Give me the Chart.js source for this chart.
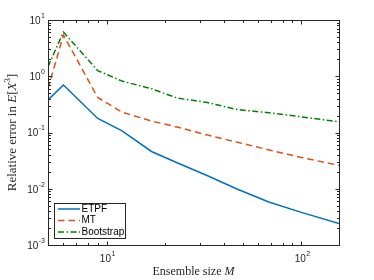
<!DOCTYPE html>
<html>
<head>
<meta charset="utf-8">
<script src="https://cdn.jsdelivr.net/npm/chart.js@4.4.0/dist/chart.umd.min.js"></script>
<style>
  html, body { margin: 0; padding: 0; background: #fff; }
</style>
</head>
<body>
<div style="width:374px;height:280px"><canvas id="chart" width="374" height="280"></canvas></div>
<script>
// values
const ensembleSize   = [5, 6, 9, 12, 17, 23, 33, 47, 68, 100, 156];
const etpfError      = [0.38, 0.70, 0.178, 0.107, 0.046, 0.029, 0.017, 0.0098, 0.0058, 0.0038, 0.0024];
const mtError        = [0.6, 5.4, 0.42, 0.23, 0.16, 0.125, 0.09, 0.067, 0.049, 0.036, 0.026];
const bootstrapError = [1.48, 6.1, 1.26, 0.82, 0.6, 0.41, 0.34, 0.255, 0.225, 0.19, 0.155];
const seriesNames    = ['ETPF', 'MT', 'Bootstrap'];

const xRange = [5, 156];
const yRange = [1e-3, 10];
const xTickValues = [10, 100];
const xTickExps   = ['1', '2'];
const yTickValues = [1e-3, 1e-2, 1e-1, 1, 10];
const yTickExps   = ['-3', '-2', '-1', '0', '1'];

const axisColor = '#262626';
const sans = '"Liberation Sans", Arial, sans-serif';
const serif = '"Liberation Serif", "Times New Roman", serif';

const styles = [
  { color: '#0072BD', dash: [] },
  { color: '#D95319', dash: [6.5, 4] },
  { color: '#008000', dash: [6, 2.5, 1.5, 2.5] }
];

const toPoints = vals => ensembleSize.map((m, i) => ({ x: m, y: vals[i] }));

// box, inward ticks, labels, titles and legend, MATLAB style
const axesFrame = {
  id: 'axesFrame',
  afterDraw(chart) {
    const { ctx, chartArea: a, scales: { x, y } } = chart;
    const L = Math.round(a.left) + 0.5, R = Math.round(a.right) + 0.5;
    const T = Math.round(a.top) + 0.5, B = Math.round(a.bottom) + 0.5;
    ctx.save();
    ctx.strokeStyle = axisColor;
    ctx.lineWidth = 1;

    // minor + major ticks on every side
    ctx.beginPath();
    for (let d = -3; d <= 2; d++) {
      for (let k = 1; k <= 9; k++) {
        const v = k * Math.pow(10, d);
        const len = k === 1 ? 4 : 2.5;
        if (v >= xRange[0] && v <= xRange[1]) {
          const px = Math.round(x.getPixelForValue(v)) + 0.5;
          ctx.moveTo(px, B); ctx.lineTo(px, B - len);
          ctx.moveTo(px, T); ctx.lineTo(px, T + len);
        }
        if (v >= yRange[0] && v <= yRange[1]) {
          const py = Math.round(y.getPixelForValue(v)) + 0.5;
          ctx.moveTo(L, py); ctx.lineTo(L + len, py);
          ctx.moveTo(R, py); ctx.lineTo(R - len, py);
        }
      }
    }
    ctx.stroke();
    ctx.strokeRect(L, T, R - L, B - T);

    // tick labels
    ctx.fillStyle = axisColor;
    ctx.textBaseline = 'middle';
    ctx.textAlign = 'left';
    const power = (exp, px, py, anchor) => {
      ctx.font = '10px ' + sans;
      const w1 = ctx.measureText('10').width;
      ctx.font = '7px ' + sans;
      const w2 = ctx.measureText(exp).width;
      const x0 = anchor === 'right' ? px - w1 - w2 - 0.5 : px - (w1 + w2 + 0.5) / 2;
      ctx.font = '10px ' + sans;
      ctx.fillText('10', x0, py + 1);
      ctx.font = '7px ' + sans;
      ctx.fillText(exp, x0 + w1 + 0.5, py - 4);
    };
    yTickValues.forEach((v, i) => power(yTickExps[i], a.left - 3, y.getPixelForValue(v), 'right'));
    xTickValues.forEach((v, i) => power(xTickExps[i], x.getPixelForValue(v) + 1, a.bottom + 13, 'center'));

    // axis titles
    const pieces = (parts, cx, cy) => {
      let w = 0;
      parts.forEach(p => { ctx.font = p.f; w += ctx.measureText(p.t).width; });
      let xx = cx - w / 2;
      parts.forEach(p => {
        ctx.font = p.f;
        ctx.fillText(p.t, xx, cy + (p.dy || 0));
        xx += ctx.measureText(p.t).width;
      });
    };
    pieces([
      { t: 'Ensemble size ', f: '12px ' + serif },
      { t: 'M', f: 'italic 12px ' + serif }
    ], (a.left + a.right) / 2, 272);

    ctx.save();
    ctx.translate(13, (a.top + a.bottom) / 2);
    ctx.rotate(-Math.PI / 2);
    pieces([
      { t: 'Relative error in ', f: '13px ' + serif },
      { t: 'E', f: 'italic 13px ' + serif },
      { t: '[', f: '13px ' + serif },
      { t: 'X', f: 'italic 13px ' + serif },
      { t: '3', f: '9px ' + serif, dy: -5 },
      { t: ']', f: '13px ' + serif }
    ], 0, 0);
    ctx.restore();

    // legend, lower left inside the axes
    const bx = 54.5, by = 203.5, bw = 71, bh = 35;
    ctx.fillStyle = '#fff';
    ctx.fillRect(bx, by, bw, bh);
    ctx.strokeStyle = axisColor;
    ctx.lineWidth = 1;
    ctx.strokeRect(bx, by, bw, bh);
    chart.data.datasets.forEach((ds, i) => {
      const ry = 209 + i * 11.5;
      ctx.strokeStyle = ds.borderColor;
      ctx.lineWidth = ds.borderWidth;
      ctx.setLineDash(ds.borderDash);
      ctx.beginPath();
      ctx.moveTo(58, ry); ctx.lineTo(80, ry);
      ctx.stroke();
      ctx.setLineDash([]);
      ctx.fillStyle = '#000';
      ctx.font = '10px ' + sans;
      ctx.fillText(ds.label, 81.5, ry);
    });
    ctx.restore();
  }
};

new Chart(document.getElementById('chart'), {
  type: 'line',
  data: {
    datasets: [etpfError, mtError, bootstrapError].map((vals, i) => ({
      label: seriesNames[i],
      data: toPoints(vals),
      borderColor: styles[i].color,
      borderDash: styles[i].dash,
      borderWidth: 1.5,
      pointRadius: 0,
      fill: false,
      tension: 0
    }))
  },
  options: {
    responsive: false,
    animation: false,
    devicePixelRatio: 1,
    layout: { padding: { left: 48, top: 20, right: 35, bottom: 35 } },
    plugins: { legend: { display: false }, tooltip: { enabled: false } },
    scales: {
      x: { type: 'logarithmic', min: xRange[0], max: xRange[1], bounds: 'data', display: false },
      y: { type: 'logarithmic', min: yRange[0], max: yRange[1], bounds: 'data', display: false }
    }
  },
  plugins: [axesFrame]
});
</script>
</body>
</html>
